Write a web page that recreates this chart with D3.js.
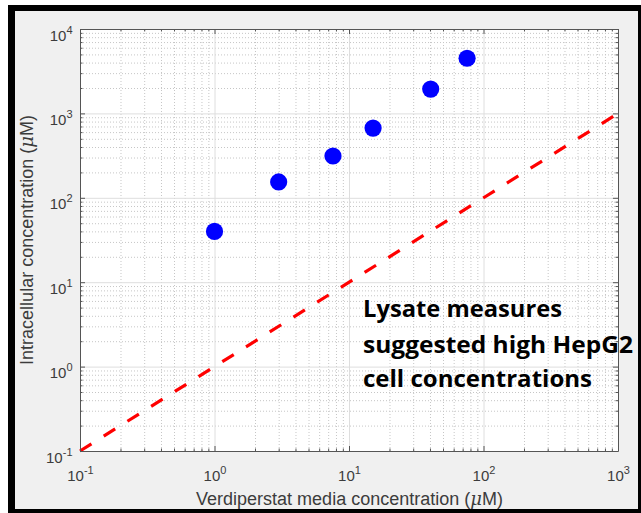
<!DOCTYPE html>
<html><head><meta charset="utf-8">
<script src="https://cdn.jsdelivr.net/npm/d3@7"></script>
<style>body{margin:0;background:#fff;} svg{display:block;}</style>
</head><body><svg id="c" width="641" height="513"></svg>
<script>
// ---- data ----
const xValues = [1, 3, 7.6, 15.1, 40.5, 75.5];
const yValues = [40, 154, 313, 670, 1940, 4500];
const xTickExponents = [-1, 0, 1, 2, 3];
const yTickExponents = [-1, 0, 1, 2, 3, 4];
const refLine = [0.1, 1000];
const xLabelText = "Verdiperstat media concentration (";
const yLabelText = "Intracellular concentration (";
const annotation = ["Lysate measures", "suggested high HepG2", "cell concentrations"];
const annotationWidths = [199, 270, 229];

// ---- layout ----
const L = 80, R = 618, T = 29, B = 451;
const svg = d3.select("#c");
const axisColor = "#555";
const textColor = "#3c3c3c";
const font = "'Liberation Sans', Arial, Helvetica, sans-serif";

// frame
svg.append("rect").attr("x", 8).attr("y", 5).attr("width", 650).attr("height", 520).attr("fill", "#000");
svg.append("rect").attr("x", 15).attr("y", 11).attr("width", 623).attr("height", 498).attr("fill", "#f0f0f0");
svg.append("rect").attr("x", L).attr("y", T).attr("width", R - L).attr("height", B - T).attr("fill", "#fff");

const x = d3.scaleLog().domain([0.1, 1000]).range([L, R]);
const y = d3.scaleLog().domain([0.1, 10000]).range([B, T]);

const xMajors = xTickExponents.map(e => Math.pow(10, e));
const yMajors = yTickExponents.map(e => Math.pow(10, e));
function minors(exps) {
  const out = [];
  for (let i = 0; i < exps.length - 1; i++)
    for (let k = 2; k <= 9; k++) out.push(k * Math.pow(10, exps[i]));
  return out;
}
const xMinors = minors(xTickExponents);
const yMinors = minors(yTickExponents);

// grids
function grid(axisGen, tr, vals, dotted) {
  const g = svg.append("g").attr("transform", tr)
    .call(axisGen.tickValues(vals).tickFormat("").tickSizeOuter(0));
  g.select(".domain").remove();
  g.selectAll("line")
    .attr("stroke", dotted ? "#c6c6c6" : "#dedede")
    .attr("stroke-width", 1)
    .attr("stroke-dasharray", dotted ? "1,2" : null);
}
grid(d3.axisBottom(x).tickSize(-(B - T)), `translate(0,${B})`, xMinors, true);
grid(d3.axisLeft(y).tickSize(-(R - L)), `translate(${L},0)`, yMinors, true);
grid(d3.axisBottom(x).tickSize(-(B - T)), `translate(0,${B})`, xMajors.slice(1, -1), false);
grid(d3.axisLeft(y).tickSize(-(R - L)), `translate(${L},0)`, yMajors.slice(1, -1), false);

// reference line y = x
svg.append("path")
  .datum(refLine)
  .attr("d", d3.line().x(d => x(d)).y(d => y(d)))
  .attr("stroke", "#ff0000").attr("stroke-width", 3.2)
  .attr("stroke-dasharray", "13.5,14.5").attr("fill", "none");

// points
svg.selectAll("circle.pt").data(xValues).join("circle")
  .attr("class", "pt")
  .attr("cx", d => x(d)).attr("cy", (d, i) => y(yValues[i]))
  .attr("r", 8.6).attr("fill", "#0000ff");

// axes (ticks inward)
function styleAxis(g) {
  g.select(".domain").attr("stroke", axisColor).attr("stroke-width", 1);
  g.selectAll("line").attr("stroke", axisColor).attr("stroke-width", 1);
}
function powLabel(textSel) {
  textSel.each(function (d) {
    const t = d3.select(this);
    t.text(null);
    const e = Math.round(Math.log10(d));
    t.append("tspan").text("10");
    t.append("tspan").attr("font-size", 11).attr("dy", -7).text(String(e));
  });
}
// bottom
const gB = svg.append("g").attr("transform", `translate(0,${B})`)
  .call(d3.axisBottom(x).tickValues(xMajors).tickSize(-5).tickSizeOuter(0));
styleAxis(gB);
gB.selectAll("text").attr("y", 30).attr("dy", 0).attr("fill", textColor)
  .attr("font-family", font).attr("font-size", 15).attr("text-anchor", "middle")
  .call(powLabel);
const gBm = svg.append("g").attr("transform", `translate(0,${B})`)
  .call(d3.axisBottom(x).tickValues(xMinors).tickSize(-2.5).tickFormat("").tickSizeOuter(0));
styleAxis(gBm); gBm.select(".domain").remove();
// top
const gT = svg.append("g").attr("transform", `translate(0,${T})`)
  .call(d3.axisTop(x).tickValues(xMajors).tickSize(-5).tickFormat("").tickSizeOuter(0));
styleAxis(gT);
const gTm = svg.append("g").attr("transform", `translate(0,${T})`)
  .call(d3.axisTop(x).tickValues(xMinors).tickSize(-2.5).tickFormat("").tickSizeOuter(0));
styleAxis(gTm); gTm.select(".domain").remove();
// left
const gL = svg.append("g").attr("transform", `translate(${L},0)`)
  .call(d3.axisLeft(y).tickValues(yMajors).tickSize(-5).tickSizeOuter(0));
styleAxis(gL);
gL.selectAll("text").attr("x", -7.5).attr("y", 11).attr("dy", 0).attr("fill", textColor)
  .attr("font-family", font).attr("font-size", 15).attr("text-anchor", "end")
  .call(powLabel);
const gLm = svg.append("g").attr("transform", `translate(${L},0)`)
  .call(d3.axisLeft(y).tickValues(yMinors).tickSize(-2.5).tickFormat("").tickSizeOuter(0));
styleAxis(gLm); gLm.select(".domain").remove();
// right
const gR = svg.append("g").attr("transform", `translate(${R},0)`)
  .call(d3.axisRight(y).tickValues(yMajors).tickSize(-5).tickFormat("").tickSizeOuter(0));
styleAxis(gR);
const gRm = svg.append("g").attr("transform", `translate(${R},0)`)
  .call(d3.axisRight(y).tickValues(yMinors).tickSize(-2.5).tickFormat("").tickSizeOuter(0));
styleAxis(gRm); gRm.select(".domain").remove();

// axis labels
const xl = svg.append("text").attr("x", 349.5).attr("y", 505)
  .attr("text-anchor", "middle").attr("font-family", font).attr("font-size", 18).attr("fill", textColor);
xl.append("tspan").text(xLabelText);
xl.append("tspan").attr("font-style", "italic").attr("font-family", "'DejaVu Serif', serif").text("\u03bc");
xl.append("tspan").text("M)");

const yl = svg.append("text").attr("transform", `translate(33,${(T + B) / 2}) rotate(-90)`)
  .attr("text-anchor", "middle").attr("font-family", font).attr("font-size", 18).attr("fill", textColor);
yl.append("tspan").text(yLabelText);
yl.append("tspan").attr("font-style", "italic").attr("font-family", "'DejaVu Serif', serif").text("\u03bc");
yl.append("tspan").text("M)");

// annotation
const baselines = [317, 352.5, 386.5];
svg.selectAll("text.ann").data(annotation).join("text")
  .attr("class", "ann")
  .attr("x", 363).attr("y", (d, i) => baselines[i])
  .attr("font-family", "'Open Sans', Lato, sans-serif").attr("font-weight", "bold")
  .attr("font-size", 23).attr("fill", "#000")
  .attr("textLength", (d, i) => annotationWidths[i]).attr("lengthAdjust", "spacingAndGlyphs")
  .text(d => d);
</script></body></html>
